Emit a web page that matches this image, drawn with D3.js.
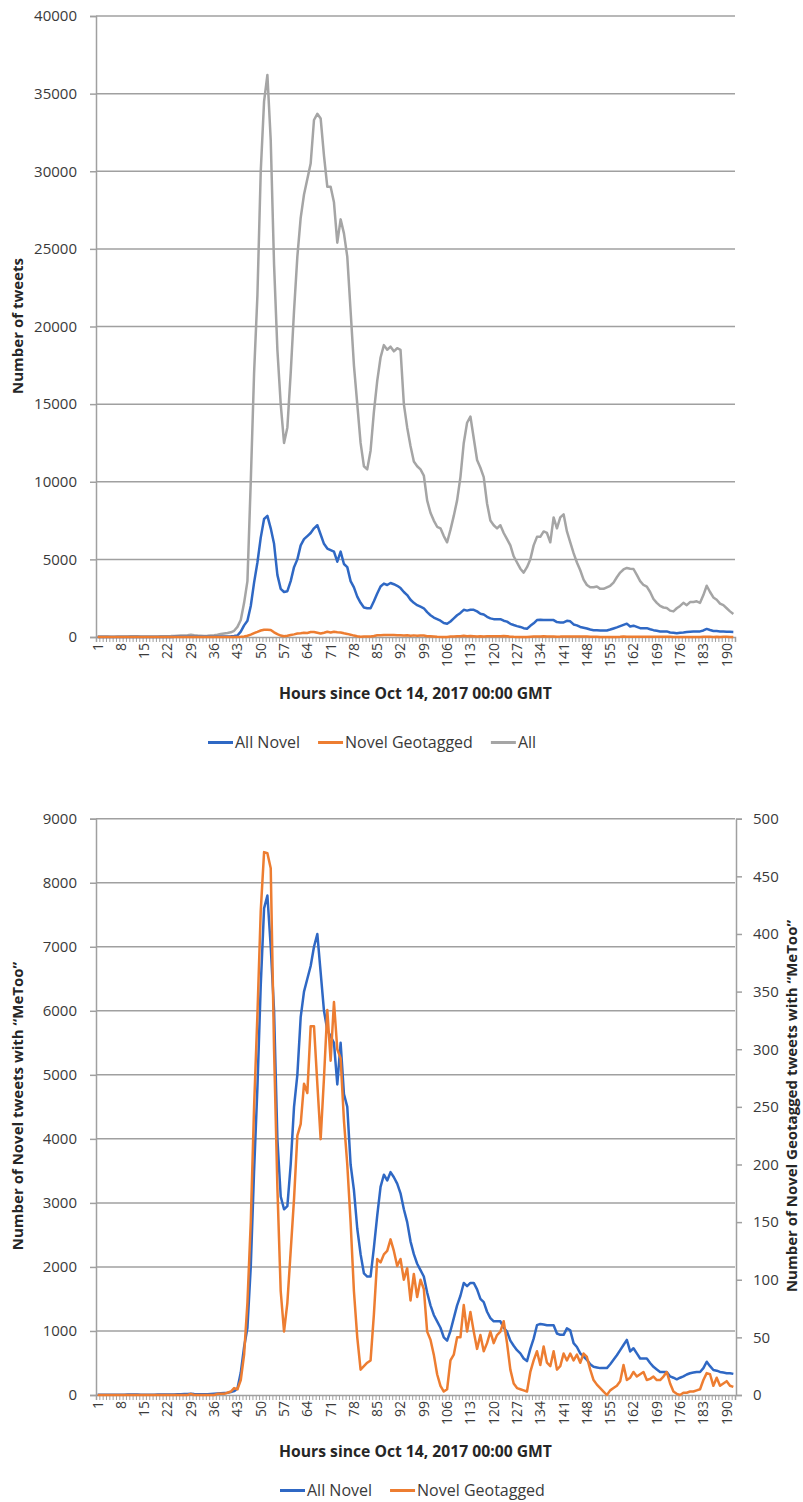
<!DOCTYPE html>
<meta charset="utf-8">
<script src="https://d3js.org/d3.v7.min.js"></script>
<style>
  body { margin: 0; background: #fff; }
  text { font-family: "Open Sans", sans-serif; }
</style>
<div id="chart"></div>
<script>
// hours since Oct 14, 2017 00:00 GMT
const hours = d3.range(1, 193);
const hourLabels = hours.filter(h => (h - 1) % 7 == 0);

// "All" tweets (top chart, gray)
const allTweets = [
  40, 35, 30, 25, 20, 20, 25, 30, 35, 40, 45, 50, 45, 40, 35, 30, 30, 35, 40, 45,
  50, 55, 60, 70, 80, 90, 100, 120, 150, 110, 90, 80, 70, 80, 100, 120, 150, 200, 230, 260,
  300, 400, 650, 1100, 2200, 3600, 10000, 17000, 22000, 30000, 34500, 36200, 32000, 24000, 18500, 15000, 12500, 13500, 17000, 21000,
  24500, 27000, 28500, 29500, 30500, 33300, 33700, 33400, 31000, 29000, 29000, 28000, 25400, 26900, 26000, 24500, 21000, 17500, 15000, 12500,
  11000, 10800, 12000, 14500, 16500, 18000, 18800, 18500, 18700, 18400, 18600, 18500, 15000, 13500, 12300, 11300, 11000, 10800, 10400, 8800,
  8000, 7500, 7100, 7000, 6500, 6100, 6900, 7800, 8800, 10300, 12500, 13800, 14200, 12800, 11400, 10900, 10300, 8600, 7500, 7200,
  7000, 7200, 6700, 6300, 5900, 5200, 4800, 4400, 4150, 4500, 5000, 5900, 6450, 6450, 6800, 6700, 6100, 7700, 7000, 7700,
  7900, 6800, 6100, 5400, 4800, 4300, 3700, 3350, 3200, 3200, 3250, 3100, 3100, 3200, 3300, 3500, 3850, 4150, 4350, 4450,
  4400, 4380, 4000, 3600, 3350, 3250, 2900, 2450, 2200, 2000, 1900, 1870, 1700, 1650, 1850, 2000, 2200, 2050, 2250, 2250,
  2300, 2200, 2700, 3300, 2900, 2550, 2400, 2150, 2050, 1850, 1650, 1480
];

// "All Novel" tweets (blue)
const allNovel = [
  5, 5, 4, 4, 3, 3, 3, 4, 5, 6, 6, 7, 6, 5, 5, 4, 4, 5, 6, 6,
  7, 8, 8, 9, 10, 12, 14, 16, 20, 15, 12, 10, 10, 12, 15, 18, 22, 26, 30, 35,
  45, 60, 100, 350, 750, 1050, 2000, 3500, 4800, 6400, 7600, 7800, 7000, 6000, 4000, 3100, 2900, 2950, 3600, 4500,
  5000, 5900, 6300, 6500, 6700, 7000, 7200, 6600, 6000, 5700, 5600, 5500, 4850, 5500, 4700, 4500, 3600, 3200, 2600, 2200,
  1900, 1850, 1850, 2300, 2800, 3250, 3440, 3350, 3480, 3400, 3300, 3150, 2900, 2700, 2400, 2200, 2050, 1950, 1850, 1600,
  1400, 1250, 1150, 1050, 900, 850, 1000, 1200, 1400, 1550, 1750, 1700, 1750, 1750, 1650, 1500, 1450, 1300, 1200, 1150,
  1150, 1150, 1050, 990, 850, 770, 700, 650, 570, 530, 720, 880, 1090, 1110, 1100, 1090, 1090, 1090, 960, 940,
  940, 1040, 1010, 810, 750, 650, 600, 550, 480, 440, 430, 420, 420, 420, 480, 550, 620, 700, 780, 860,
  680, 730, 650, 570, 570, 570, 500, 440, 400, 360, 360, 360, 290, 270, 245, 270, 290, 320, 340, 350,
  360, 360, 420, 520, 450, 390, 380, 360, 350, 340, 340, 330
];

// "Novel Geotagged" tweets (orange)
const novelGeotagged = [
  0, 0, 0, 0, 0, 0, 0, 0, 0, 0, 0, 0, 0, 0, 0, 0, 0, 0, 0, 0,
  0, 0, 0, 0, 0, 0, 0, 0, 1, 0, 0, 0, 0, 0, 0, 0, 1, 1, 1, 2,
  3, 6, 5, 13, 35, 80, 150, 250, 330, 420, 471, 470, 457, 300, 180, 90, 55, 80, 125, 170,
  225, 235, 270, 262, 320, 320, 270, 222, 275, 334, 290, 341, 300, 292, 238, 200, 150, 90, 50, 22,
  25, 28, 30, 70, 118, 115, 122, 125, 135, 125, 112, 118, 100, 110, 82, 105, 85, 100, 92, 55,
  48, 35, 18, 8, 3, 5, 30, 35, 50, 50, 78, 55, 72, 55, 40, 52, 38, 45, 55, 45,
  52, 55, 64, 45, 22, 10, 6, 5, 4, 3, 20, 30, 38, 26, 42, 28, 25, 38, 22, 25,
  36, 30, 36, 30, 35, 28, 36, 33, 22, 13, 9, 6, 3, 0, 4, 6, 8, 12, 26, 13,
  15, 20, 16, 18, 20, 13, 14, 16, 13, 13, 16, 20, 10, 3, 1, 0, 2, 2, 3, 3,
  4, 5, 13, 19, 18, 8, 15, 8, 10, 12, 8, 7
];

const topTicks = d3.range(0, 40001, 5000);
const bottomLeftTicks = d3.range(0, 9001, 1000);
const bottomRightTicks = d3.range(0, 501, 50);

const colors = {allNovel: "#2f68c4", geo: "#ed7d31", all: "#a5a5a5"};
const gridColor = "#a0a0a0";
const labelColor = "#3a3a3a";

const svg = d3.select("#chart")
    .append("svg")
    .attr("width", 803)
    .attr("height", 1502);

// shared x scales
const x = d3.scaleBand().domain(hours).range([96, 735]).paddingInner(0).paddingOuter(0);
const xEdge = d3.scaleLinear().domain([0, hours.length]).range([96, 735]);
const cx = h => x(h) + x.bandwidth() / 2;

function styleAxis(a) {
    a.select(".domain").attr("stroke", gridColor).attr("stroke-width", 1.5);
    a.selectAll(".tick line").attr("stroke", gridColor).attr("stroke-width", 1.5);
    a.selectAll("text").style("font-size", "15px").style("font-family", "Open Sans").attr("fill", labelColor);
}

function drawXAxis(g, y0, titleY) {
    // tick marks between categories
    g.append("g")
        .attr("transform", `translate(0, ${y0})`)
        .call(d3.axisBottom(xEdge).tickValues(d3.range(0, hours.length + 1)).tickSize(5).tickFormat(""))
        .call(a => a.select(".domain").attr("stroke", gridColor).attr("stroke-width", 1.5))
        .call(a => a.selectAll(".tick line").attr("stroke", gridColor));

    g.append("g")
        .attr("transform", `translate(0, ${y0})`)
        .call(d3.axisBottom(x).tickValues(hourLabels).tickSize(0))
        .call(a => a.select(".domain").remove())
        .selectAll("text")
        .attr("transform", "rotate(-90)")
        .attr("x", -6)
        .attr("y", 0)
        .attr("dy", "0.35em")
        .style("text-anchor", "end")
        .style("font-size", "14px")
        .style("font-family", "Open Sans")
        .attr("fill", labelColor);

    g.append("text")
        .text("Hours since Oct 14, 2017 00:00 GMT")
        .attr("x", 415.5)
        .attr("y", titleY)
        .attr("text-anchor", "middle")
        .attr("font-size", "15.7px")
        .attr("font-weight", "bold")
        .attr("fill", "#262626");
}

function drawGrid(g, y, ticks) {
    g.append("g")
        .selectAll("line")
        .data(ticks.filter(t => t > 0))
        .join("line")
        .attr("x1", 96)
        .attr("x2", 735)
        .attr("y1", d => y(d))
        .attr("y2", d => y(d))
        .attr("stroke", gridColor)
        .attr("stroke-width", 1.5);
}

function drawLegend(g, items, startX, ly) {
    let px = startX;
    items.forEach(item => {
        g.append("line")
            .attr("x1", px).attr("x2", px + 25)
            .attr("y1", ly - 5.5).attr("y2", ly - 5.5)
            .attr("stroke", item.color)
            .attr("stroke-width", 3);
        const t = g.append("text")
            .text(item.name)
            .attr("x", px + 27)
            .attr("y", ly)
            .attr("font-size", "16px")
            .attr("fill", labelColor);
        px += 27 + t.node().getComputedTextLength() + 18;
    });
}

function drawLine(g, values, y, color) {
    const line = d3.line()
        .x((d, i) => cx(hours[i]))
        .y(d => y(d));
    g.append("path")
        .datum(values)
        .attr("fill", "none")
        .attr("stroke", color)
        .attr("stroke-width", 2.5)
        .attr("stroke-linejoin", "round")
        .attr("d", line);
}

function yTitle(g, text, tx, ty) {
    g.append("text")
        .text(text)
        .attr("transform", `translate(${tx}, ${ty}) rotate(-90)`)
        .attr("text-anchor", "middle")
        .attr("font-size", "15px")
        .attr("font-weight", "bold")
        .attr("fill", "#262626");
}

// ***** TOP CHART *****
const topChart = svg.append("g");
const yTop = d3.scaleLinear().domain([0, 40000]).range([637, 16]);

drawGrid(topChart, yTop, topTicks);

topChart.append("g")
    .attr("transform", "translate(96, 0)")
    .call(d3.axisLeft(yTop).tickValues(topTicks).tickSize(6).tickPadding(13).tickFormat(d3.format("d")))
    .call(styleAxis);

drawXAxis(topChart, 637, 699);

drawLine(topChart, allTweets, yTop, colors.all);
drawLine(topChart, allNovel, yTop, colors.allNovel);
drawLine(topChart, novelGeotagged, yTop, colors.geo);

yTitle(topChart, "Number of tweets", 23, 326);

drawLegend(topChart, [
    {name: "All Novel", color: colors.allNovel},
    {name: "Novel Geotagged", color: colors.geo},
    {name: "All", color: colors.all}
], 208, 748);

// ***** BOTTOM CHART *****
const bottomChart = svg.append("g");
const yLeft = d3.scaleLinear().domain([0, 9000]).range([1395, 818.7]);
const yRight = d3.scaleLinear().domain([0, 500]).range([1395, 818.7]);

drawGrid(bottomChart, yLeft, bottomLeftTicks);

bottomChart.append("g")
    .attr("transform", "translate(96, 0)")
    .call(d3.axisLeft(yLeft).tickValues(bottomLeftTicks).tickSize(6).tickPadding(13).tickFormat(d3.format("d")))
    .call(styleAxis);

bottomChart.append("g")
    .attr("transform", "translate(736, 0)")
    .call(d3.axisRight(yRight).tickValues(bottomRightTicks).tickSize(6).tickPadding(11).tickFormat(d3.format("d")))
    .call(styleAxis);

drawXAxis(bottomChart, 1395, 1457);

drawLine(bottomChart, allNovel, yLeft, colors.allNovel);
drawLine(bottomChart, novelGeotagged, yRight, colors.geo);

yTitle(bottomChart, "Number of Novel tweets with \u201CMeToo\u201D", 23, 1106);
yTitle(bottomChart, "Number of Novel Geotagged tweets with \u201CMeToo\u201D", 797, 1106);

drawLegend(bottomChart, [
    {name: "All Novel", color: colors.allNovel},
    {name: "Novel Geotagged", color: colors.geo}
], 280, 1496);
</script>
